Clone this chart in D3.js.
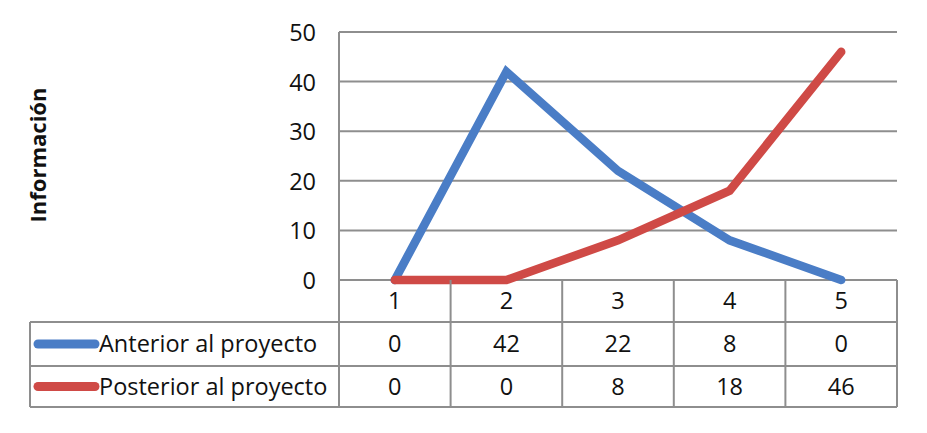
<!DOCTYPE html>
<html><head><meta charset="utf-8">
<script src="https://cdn.jsdelivr.net/npm/d3@7"></script>
<style>html,body{margin:0;padding:0;background:#fff;}svg{display:block;}</style>
</head><body>
<svg id="c" width="927" height="433"></svg>
<script>
const categories = ["1", "2", "3", "4", "5"];
const anterior = [0, 42, 22, 8, 0];
const posterior = [0, 0, 8, 18, 46];
const seriesNames = ["Anterior al proyecto", "Posterior al proyecto"];
const seriesColors = ["#4A7DC6", "#CF4A46"];
const yTicks = [0, 10, 20, 30, 40, 50];
const yTitle = "Información";

(function () {
const series = [anterior, posterior];
const svg = d3.select("#c");
const font = "'Open Sans', 'Noto Sans', sans-serif";
const gridColor = "#8e8e8e";
const fs = 23.5;

const pLeft = 339, pRight = 897, pTop = 32, pBottom = 280;
const tableLeft = 30;
const rowBounds = [280, 322, 366, 407];

const x = d3.scaleBand().domain(categories).range([pLeft, pRight]).padding(0);
const y = d3.scaleLinear().domain([0, 50]).range([pBottom, pTop]);

svg.append("g").selectAll("line").data(yTicks).join("line")
  .attr("x1", pLeft).attr("x2", pRight)
  .attr("y1", d => y(d)).attr("y2", d => y(d))
  .attr("stroke", gridColor).attr("stroke-width", 2);
svg.append("line").attr("x1", pLeft).attr("x2", pLeft).attr("y1", pTop).attr("y2", pBottom)
  .attr("stroke", gridColor).attr("stroke-width", 2);

const yAxis = d3.axisLeft(y).tickValues(yTicks).tickSize(0).tickPadding(0);
const ga = svg.append("g").attr("transform", `translate(${316},0)`).call(yAxis);
ga.select(".domain").remove();
ga.selectAll("text").attr("font-family", font).attr("font-size", fs).attr("fill", "#111").attr("dy", "0.36em");

svg.append("text").attr("transform", `translate(46,155) rotate(-90)`)
  .attr("text-anchor", "middle").attr("font-family", font).attr("font-weight", "bold")
  .attr("font-size", 22).attr("fill", "#111").text(yTitle);

const line = d3.line().x((d, i) => x(categories[i]) + x.bandwidth() / 2).y(d => y(d));
svg.append("g").selectAll("path").data(series).join("path")
  .attr("d", d => line(d)).attr("fill", "none")
  .attr("stroke", (d, i) => seriesColors[i]).attr("stroke-width", 8.5)
  .attr("stroke-linecap", "round").attr("stroke-linejoin", "miter");

const tg = svg.append("g");
const bstyle = s => s.attr("stroke", gridColor).attr("stroke-width", 2);
tg.append("line").attr("x1", tableLeft).attr("x2", pRight).attr("y1", rowBounds[1]).attr("y2", rowBounds[1]).call(bstyle);
tg.append("line").attr("x1", tableLeft).attr("x2", pRight).attr("y1", rowBounds[2]).attr("y2", rowBounds[2]).call(bstyle);
tg.append("line").attr("x1", tableLeft).attr("x2", pRight).attr("y1", rowBounds[3]).attr("y2", rowBounds[3]).call(bstyle);
const vx = categories.map(c => x(c)).concat([pRight]);
tg.selectAll("line.v").data(vx).join("line").attr("class", "v")
  .attr("x1", d => d).attr("x2", d => d).attr("y1", pBottom).attr("y2", rowBounds[3]).call(bstyle);
tg.append("line").attr("x1", tableLeft).attr("x2", tableLeft).attr("y1", rowBounds[1]).attr("y2", rowBounds[3]).call(bstyle);

tg.selectAll("text.cat").data(categories).join("text").attr("class", "cat")
  .attr("x", d => x(d) + x.bandwidth() / 2).attr("y", (rowBounds[0] + rowBounds[1]) / 2)
  .attr("dy", "0.36em").attr("text-anchor", "middle")
  .attr("font-family", font).attr("font-size", fs).attr("fill", "#111").text(d => d);

series.forEach((s, si) => {
  const cy = (rowBounds[si + 1] + rowBounds[si + 2]) / 2;
  tg.selectAll("text.val" + si).data(s).join("text").attr("class", "val" + si)
    .attr("x", (d, i) => x(categories[i]) + x.bandwidth() / 2).attr("y", cy)
    .attr("dy", "0.36em").attr("text-anchor", "middle")
    .attr("font-family", font).attr("font-size", fs).attr("fill", "#111").text(d => d);
  tg.append("line").attr("x1", 38).attr("x2", 95).attr("y1", cy).attr("y2", cy)
    .attr("stroke", seriesColors[si]).attr("stroke-width", 9).attr("stroke-linecap", "round");
  tg.append("text").attr("x", 99).attr("y", cy).attr("dy", "0.36em")
    .attr("font-family", font).attr("font-size", fs).attr("fill", "#111").text(seriesNames[si]);
});
})();
</script>
</body></html>
